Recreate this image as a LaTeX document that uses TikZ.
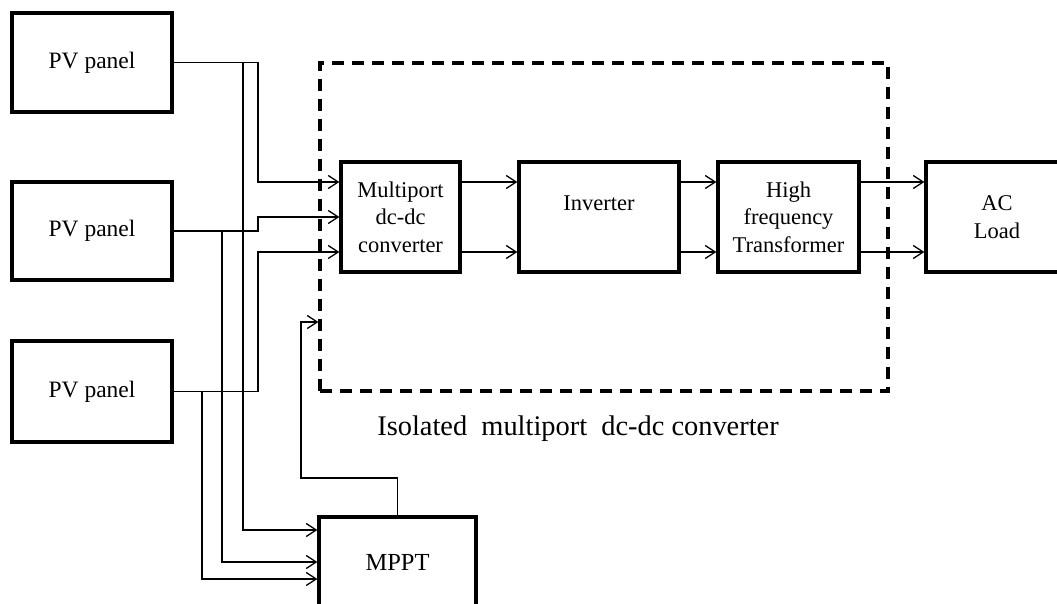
\documentclass[tikz,border=0pt]{standalone}
\usepackage{fontspec}
\setmainfont{Liberation Serif}
\usetikzlibrary{arrows.meta}
\begin{document}
\begin{tikzpicture}[x=1pt,y=-1pt,
  box/.style={draw, line width=3.2pt, inner sep=0pt, align=center, font=\fontsize{22.5}{27.5}\selectfont},
  plain/.style={inner sep=0pt, align=center, font=\fontsize{22.5}{27.5}\selectfont},
  wire/.style={line width=1.3pt},
  arr/.style={-{Straight Barb[length=10pt,width=13pt,line width=1.3pt]}},
  dashbox/.style={draw, line width=3.2pt, dash pattern=on 12pt off 8pt, inner sep=0pt}
]
\useasboundingbox (0,0) rectangle (1057,603);
% dashed enclosure
\node[dashbox, minimum width=568pt, minimum height=328pt] (iso) at (604,227) {};
% blocks
\node[box, minimum width=160pt, minimum height=99pt, font=\fontsize{23.5}{28}\selectfont] (pv1) at (92,62.5) {PV panel};
\node[box, minimum width=160pt, minimum height=98pt, font=\fontsize{23.5}{28}\selectfont] (pv2) at (92,231) {PV panel};
\node[box, minimum width=160pt, minimum height=101pt, font=\fontsize{23.5}{28}\selectfont] (pv3) at (92,391.5) {PV panel};
\node[box, minimum width=119pt, minimum height=110pt] (mp) at (400.5,217) {Multiport\\dc-dc\\converter};
\node[box, minimum width=160pt, minimum height=110pt] (inv) at (599,217) {};
\node[plain] (invt) at (599,203) {Inverter};
\node[box, minimum width=141pt, minimum height=110pt] (hf) at (788.5,217) {High\\frequency\\Transformer};
\node[box, minimum width=142pt, minimum height=110pt] (ac) at (997,217) {AC\\Load};
\node[box, minimum width=157pt, minimum height=90pt, font=\fontsize{24.5}{29}\selectfont] (mppt) at (397.5,562) {MPPT};
\node[font=\fontsize{28.4}{33}\selectfont, anchor=base, inner sep=0pt] (cap) at (578,435)
  {Isolated\hspace{0.5em}multiport\hspace{0.5em}dc-dc converter};
% branch points
\coordinate (b1) at (243,62.5);
\coordinate (b2) at (222,231);
\coordinate (b3) at (202,391.5);
% panel feeds to multiport converter
\draw[wire,arr] (pv1.east) -| (258,182) -- ([yshift=35pt]mp.west);
\draw[wire,arr] (pv2.east) -| (258,217) -- (mp.west);
\draw[wire,arr] (pv3.east) -| (258,252) -- ([yshift=-35pt]mp.west);
% panel feeds to MPPT
\draw[wire,arr] (b1) |- ([yshift=32pt]mppt.west);
\draw[wire,arr] (b2) |- (mppt.west);
\draw[wire,arr] (b3) |- ([yshift=-17pt]mppt.west);
% MPPT control
\draw[wire,arr] (mppt.north) |- (301,478) -- (301,322) -- (iso.west |- 0,322);
% chain
\foreach \s in {35,-35}{
  \draw[wire,arr] ([yshift=\s pt]mp.east) -- ([yshift=\s pt]inv.west);
  \draw[wire,arr] ([yshift=\s pt]inv.east) -- ([yshift=\s pt]hf.west);
  \draw[wire,arr] ([yshift=\s pt]hf.east) -- ([yshift=\s pt]ac.west);
}
\end{tikzpicture}
\end{document}
